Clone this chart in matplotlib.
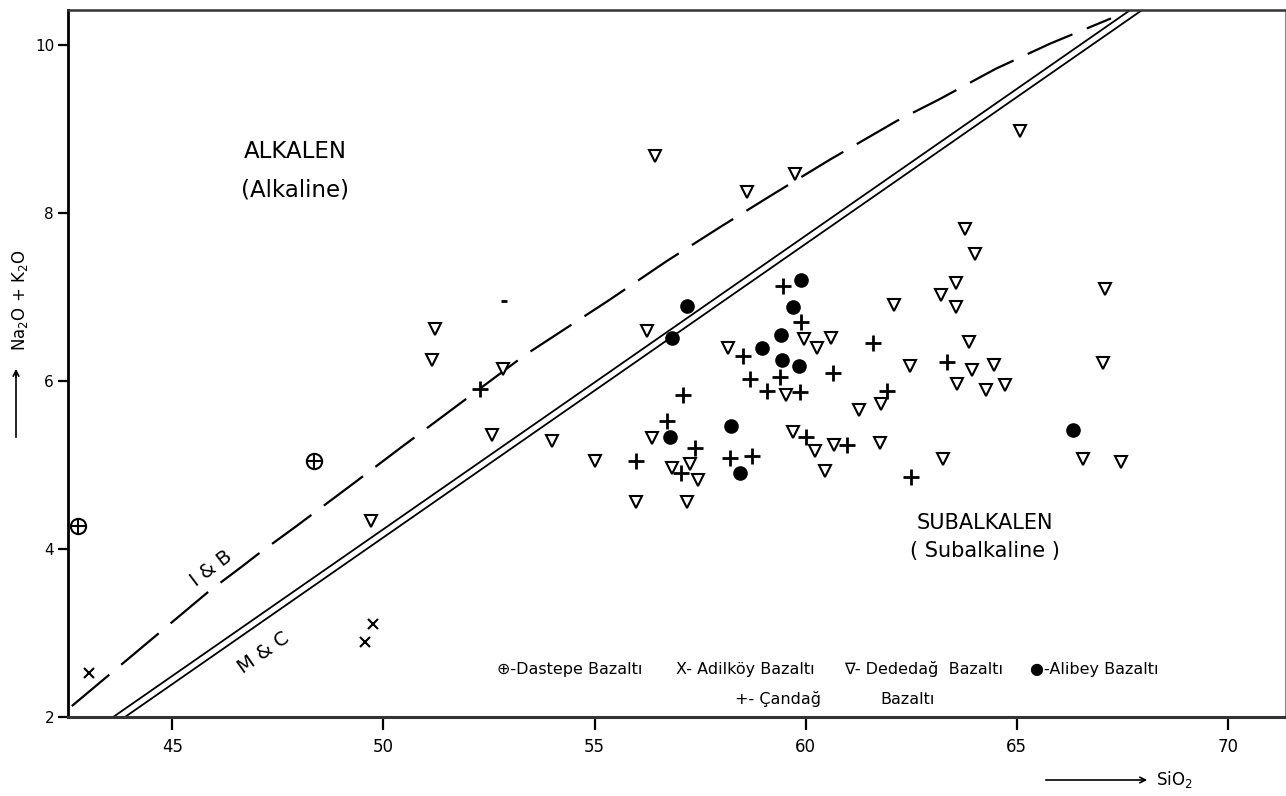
"""
TAS diagram (Na2O + K2O vs SiO2) - alkaline / subalkaline split
with Irvine & Baragar (dashed) and Macdonald & Katsura (double) lines.
"""
import matplotlib
matplotlib.use("Agg")
import matplotlib.pyplot as plt

# ---- data -------------------------------------------------------------
# Irvine & Baragar boundary (curved, dashed)
ib_x = [42.62, 45.85, 46.67, 47.03, 47.93, 49.26, 50.39, 53.35, 55.33, 56.71,
        57.99, 59.24, 60.58, 62.16, 63.14, 64.50, 65.79, 67.23]
ib_y = [2.13, 3.49, 3.80, 3.94, 4.27, 4.77, 5.20, 6.31, 6.96, 7.43,
        7.84, 8.23, 8.64, 9.10, 9.35, 9.72, 10.02, 10.32]

# Macdonald & Katsura boundary (double line)
mc1_x = [43.60, 67.83]
mc2_x = [43.88, 68.11]
mc_y = [2.0, 10.47]

# Dastepe bazalti
dastepe_x = [42.76, 48.36]
dastepe_y = [4.28, 5.05]

# Adilkoy bazalti
adilkoy_x = [43.03, 49.57, 49.76]
adilkoy_y = [2.52, 2.89, 3.11]

# Alibey bazalti
alibey_x = [59.89, 57.18, 59.70, 56.84, 59.41, 58.97, 59.43, 59.83, 58.23, 56.78,
            58.44, 66.33]
alibey_y = [7.21, 6.89, 6.88, 6.51, 6.55, 6.40, 6.25, 6.18, 5.47, 5.34,
            4.90, 5.42]

# Candag bazalti
candag_x = [59.46, 59.90, 58.52, 61.60, 60.64, 58.68, 59.39, 59.08, 59.86, 61.93,
            57.10, 56.72, 60.01, 60.97, 57.37, 55.98, 58.20, 58.72, 57.04, 63.34,
            62.50, 52.29]
candag_y = [7.13, 6.71, 6.30, 6.46, 6.10, 6.03, 6.05, 5.88, 5.87, 5.88,
            5.84, 5.53, 5.33, 5.24, 5.20, 5.05, 5.08, 5.11, 4.90, 6.23,
            4.86, 5.91]

# Dededag bazalti
dededag_x = [56.25, 58.15, 59.97, 60.27, 60.60, 62.08, 59.53, 61.26, 61.79, 54.00,
             56.37, 59.70, 61.77, 60.22, 60.68, 55.00, 56.83, 57.25, 57.44, 60.46,
             55.97, 57.20, 65.07, 63.78, 64.00, 63.56, 63.21, 63.56, 67.08, 63.86,
             62.46, 63.94, 64.47, 63.59, 64.28, 64.73, 67.03, 63.26, 66.57, 67.46,
             56.43, 58.60, 59.74, 51.21, 51.14, 52.84, 52.57, 49.71]
dededag_y = [6.60, 6.40, 6.50, 6.39, 6.51, 6.91, 5.84, 5.66, 5.73, 5.29,
             5.32, 5.39, 5.26, 5.17, 5.24, 5.05, 4.96, 5.01, 4.82, 4.93,
             4.56, 4.56, 8.98, 7.81, 7.52, 7.17, 7.02, 6.88, 7.10, 6.47,
             6.18, 6.13, 6.19, 5.97, 5.90, 5.95, 6.22, 5.07, 5.07, 5.04,
             8.68, 8.25, 8.47, 6.62, 6.25, 6.15, 5.36, 4.34]

# stray dash on the original sheet
stray_x = [52.86]
stray_y = [6.96]

x_ticks = [45, 50, 55, 60, 65, 70]
y_ticks = [2, 4, 6, 8, 10]

# ---- figure -----------------------------------------------------------
W, H = 1286, 796
fig = plt.figure(figsize=(W / 100, H / 100), dpi=100)
fig.patch.set_facecolor("white")
ax = fig.add_axes([68 / W, 1 - 717 / H, (1285 - 68) / W, (717 - 10) / H])
ax.set_xlim(42.53, 71.35)
ax.set_ylim(2.0, 10.42)

# boundary lines
ax.plot(ib_x, ib_y, color="black", lw=1.6, dashes=(22, 7), solid_capstyle="butt")
ax.plot(mc1_x, mc_y, color="black", lw=1.3)
ax.plot(mc2_x, mc_y, color="black", lw=1.3)

# samples
ax.plot(dededag_x, dededag_y, "v", ms=8.5, mfc="white", mec="black", mew=1.5)
ax.plot(candag_x, candag_y, "+", ms=11, color="black", mew=2.0)
ax.plot(alibey_x, alibey_y, "o", ms=9.5, color="black")
ax.plot(adilkoy_x, adilkoy_y, "x", ms=7, color="black", mew=1.5)
ax.plot(dastepe_x, dastepe_y, "o", ms=11, mfc="none", mec="black", mew=1.5)
ax.plot(dastepe_x, dastepe_y, "+", ms=11, color="black", mew=1.5)
ax.plot(stray_x, stray_y, "_", ms=5, color="black", mew=2)

# field names
ax.text(47.91, 8.73, "ALKALEN", ha="center", va="center", fontsize=16.5)
ax.text(47.91, 8.28, "(Alkaline)", ha="center", va="center", fontsize=16.5)
ax.text(64.25, 4.31, "SUBALKALEN", ha="center", va="center", fontsize=15)
ax.text(64.25, 3.98, "( Subalkaline )", ha="center", va="center", fontsize=15)
ax.text(45.93, 3.77, "I & B", ha="center", va="center", fontsize=14, rotation=37)
ax.text(47.16, 2.77, "M & C", ha="center", va="center", fontsize=14, rotation=35)

# symbol key
key_y1, key_y2 = 2.57, 2.21
ax.text(52.69, key_y1, "\u2295-Dastepe Bazalt\u0131", fontsize=11.5, va="center")
ax.text(56.93, key_y1, "X- Adilk\u00f6y Bazalt\u0131", fontsize=11.5, va="center")
ax.text(60.90, key_y1, "\u2207- Dededa\u011f  Bazalt\u0131", fontsize=11.5, va="center")
ax.text(65.32, key_y1, "\u25cf-Alibey Bazalt\u0131", fontsize=11.5, va="center")
ax.text(58.33, key_y2, "+- \u00c7anda\u011f", fontsize=11.5, va="center")
ax.text(61.76, key_y2, "Bazalt\u0131", fontsize=11.5, va="center")

# axes styling
ax.set_xticks(x_ticks)
ax.set_yticks(y_ticks)
ax.tick_params(axis="x", direction="out", length=9, width=1.6, pad=6, labelsize=12)
ax.tick_params(axis="y", direction="out", length=7, width=1.6, pad=3, labelsize=11)
ax.spines["left"].set_linewidth(2.0)
ax.spines["bottom"].set_linewidth(2.2)
ax.spines["bottom"].set_color("#333333")
ax.spines["top"].set_linewidth(1.8)
ax.spines["top"].set_color("#333333")
ax.spines["right"].set_linewidth(0.8)
ax.spines["right"].set_color("#888888")

# axis titles with arrows (placed in figure pixels)
fig.text(20 / W, 1 - 300 / H, "Na$_2$O + K$_2$O", rotation=90,
         ha="center", va="center", fontsize=12)
fig.add_artist(plt.Line2D([16 / W, 16 / W], [1 - 437 / H, 1 - 372 / H],
                          transform=fig.transFigure, color="black", lw=1.2))
ax.annotate("", xy=(16 / W, 1 - 366 / H), xytext=(16 / W, 1 - 380 / H),
            xycoords="figure fraction", textcoords="figure fraction",
            arrowprops=dict(arrowstyle="->", color="black", lw=1.2))
ax.annotate("", xy=(1150 / W, 1 - 780 / H), xytext=(1043 / W, 1 - 780 / H),
            xycoords="figure fraction", textcoords="figure fraction",
            arrowprops=dict(arrowstyle="->", color="black", lw=1.2))
fig.text(1156 / W, 1 - 780 / H, "SiO$_2$", ha="left", va="center", fontsize=12)

plt.savefig("out.png", dpi=100, facecolor=fig.get_facecolor())
plt.close()
